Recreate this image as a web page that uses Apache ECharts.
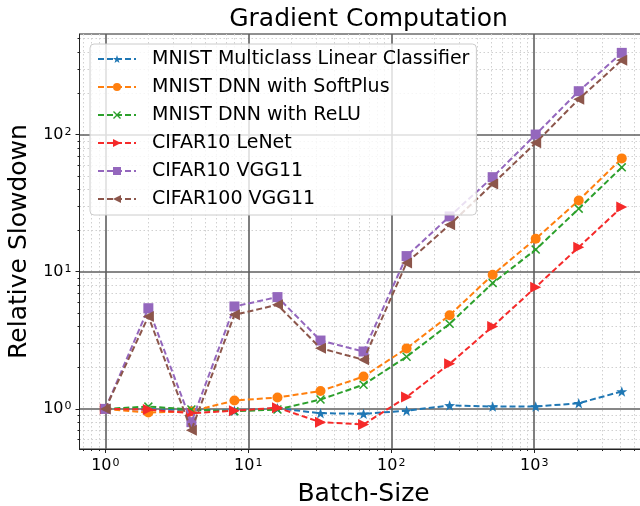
<!DOCTYPE html>
<html>
<head>
<meta charset="utf-8">
<script src="https://cdn.jsdelivr.net/npm/echarts@6/dist/echarts.min.js"></script>
<style>
  html, body { margin: 0; padding: 0; background: #fff; }
  #chart { width: 640px; height: 506px; }
</style>
</head>
<body>
<div id="chart"></div>
<script>
// Batch sizes and relative slowdown per model
const batchSizes = [1, 2, 4, 8, 16, 32, 64, 128, 256, 512, 1024, 2048, 4096];
const mnistLinear = [1.00, 0.99, 0.98, 0.97, 1.01, 0.93, 0.92, 0.97, 1.06, 1.04, 1.04, 1.10, 1.34];
const mnistSoftPlus = [1.00, 0.94, 0.96, 1.15, 1.21, 1.35, 1.72, 2.76, 4.82, 9.5, 17.4, 33.1, 67];
const mnistReLU = [1.00, 1.04, 0.99, 0.96, 0.99, 1.17, 1.50, 2.40, 4.17, 8.26, 14.5, 28.8, 57.7];
const cifar10LeNet = [1.00, 0.99, 0.93, 0.97, 1.02, 0.80, 0.77, 1.22, 2.13, 3.99, 7.72, 15.1, 29.6];
const cifar10VGG = [1.00, 5.42, 0.80, 5.58, 6.53, 3.15, 2.62, 13.0, 25.3, 48.9, 100, 207, 394];
const cifar100VGG = [1.00, 4.72, 0.70, 4.85, 5.74, 2.77, 2.28, 11.6, 22.0, 43.6, 87, 181, 348];

const seriesNames = [
  'MNIST Multiclass Linear Classifier',
  'MNIST DNN with SoftPlus',
  'MNIST DNN with ReLU',
  'CIFAR10 LeNet',
  'CIFAR10 VGG11',
  'CIFAR100 VGG11'
];
const seriesValues = [mnistLinear, mnistSoftPlus, mnistReLU, cifar10LeNet, cifar10VGG, cifar100VGG];

// Decade exponents used for major tick labels
const xDecades = [0, 1, 2, 3];
const yDecades = [0, 1, 2];

const FONT = 'DejaVu Sans';
const lg = Math.log10;

const colors = ['#1f77b4', '#ff7f0e', '#2ca02c', '#f52a2a', '#9467bd', '#8c564b'];
const STAR = 'path://M0,-10 L2.35,-3.24 L9.51,-3.09 L3.8,1.24 L5.88,8.09 L0,4 L-5.88,8.09 L-3.8,1.24 L-9.51,-3.09 L-2.35,-3.24 Z';
const CROSS = 'path://M1.2,0 L5,3.8 L8.8,0 L10,1.2 L6.2,5 L10,8.8 L8.8,10 L5,6.2 L1.2,10 L0,8.8 L3.8,5 L0,1.2 Z';
const markers = [
  { symbol: STAR, size: 11, rotate: 0 },
  { symbol: 'circle', size: 10, rotate: 0 },
  { symbol: CROSS, size: 9, rotate: 0 },
  { symbol: 'triangle', size: 11, rotate: -90 },
  { symbol: 'rect', size: 10, rotate: 0 },
  { symbol: 'triangle', size: 11, rotate: 90 }
];

// Axis extents in log10 space with a 5% margin on each side
function extent(vals) {
  const lo = Math.min(...vals.map(lg)), hi = Math.max(...vals.map(lg));
  const pad = (hi - lo) * 0.05;
  return [lo - pad, hi + pad];
}
const xExt = extent(batchSizes);
const yExt = extent([].concat(...seriesValues));

function minorValues(ext) {
  const out = [];
  for (let n = Math.floor(ext[0]) - 1; n <= Math.ceil(ext[1]); n++) {
    for (let k = 2; k <= 9; k++) {
      const v = n + lg(k);
      if (v > ext[0] && v < ext[1]) out.push(v);
    }
  }
  return out;
}

const decadeLabel = v => '{b|10}{s|' + Math.round(v) + '}';
const labelRich = {
  b: { fontFamily: FONT, fontSize: 16, color: '#000', lineHeight: 16, verticalAlign: 'bottom' },
  s: { fontFamily: FONT, fontSize: 11, color: '#000', lineHeight: 11, padding: [0, 0, 8, 1], verticalAlign: 'top' }
};

const majorSplit = { show: true, lineStyle: { color: '#5f5f5f', width: 1.6 } };
const minorSplit = { show: true, lineStyle: { color: '#d0d0d0', width: 1, type: [1.5, 2.5] } };

const series = seriesNames.map((name, i) => ({
  name: name,
  type: 'line',
  xAxisIndex: 0,
  yAxisIndex: 0,
  data: batchSizes.map((b, j) => [lg(b), lg(seriesValues[i][j])]),
  symbol: markers[i].symbol,
  symbolSize: markers[i].size,
  symbolRotate: markers[i].rotate,
  symbolKeepAspect: true,
  showAllSymbol: true,
  color: colors[i],
  itemStyle: { color: colors[i], opacity: 1 },
  lineStyle: { color: colors[i], width: 2, type: [6, 3] },
  z: 10 + i,
  animation: false
}));

const chart = echarts.init(document.getElementById('chart'), null, { renderer: 'canvas' });
chart.setOption({
  backgroundColor: '#fff',
  animation: false,
  title: {
    text: 'Gradient Computation',
    left: 363.5,
    textAlign: 'center',
    top: 2,
    textStyle: { fontFamily: FONT, fontSize: 25, fontWeight: 'normal', color: '#000' }
  },
  grid: {
    left: 79.5, top: 34, bottom: 57, right: -7.6,
    outerBoundsMode: 'none',
    containLabel: false,
    show: true, borderColor: '#222', borderWidth: 1, backgroundColor: 'transparent'
  },
  legend: {
    left: 90, top: 44,
    orient: 'vertical',
    itemWidth: 38, itemHeight: 10, itemGap: 8,
    padding: [5, 7, 6, 7],
    backgroundColor: 'rgba(255,255,255,0.8)',
    borderColor: '#cccccc', borderWidth: 1, borderRadius: 4,
    textStyle: { fontFamily: FONT, fontSize: 19, color: '#000', lineHeight: 20, padding: [0, 0, 0, 11] },
    data: seriesNames,
    z: 50
  },
  xAxis: [
    {
      type: 'value', gridIndex: 0, position: 'bottom',
      min: xExt[0], max: xExt[1],
      name: 'Batch-Size', nameLocation: 'middle', nameGap: 31,
      nameTextStyle: { fontFamily: FONT, fontSize: 25, color: '#000' },
      axisLine: { show: true, onZero: false, lineStyle: { color: '#222', width: 1 } },
      axisTick: { show: true, inside: false, length: 4, customValues: xDecades, lineStyle: { color: '#222', width: 1 } },
      axisLabel: { show: true, margin: 9, customValues: xDecades, formatter: decadeLabel, rich: labelRich },
      splitLine: majorSplit,
      z: 5
    },
    {
      type: 'value', gridIndex: 0, position: 'bottom',
      min: xExt[0], max: xExt[1],
      axisLine: { show: false, onZero: false },
      axisTick: { show: true, inside: false, length: 2, customValues: minorValues(xExt), lineStyle: { color: '#222', width: 1 } },
      axisLabel: { show: false },
      splitLine: minorSplit,
      z: 1
    }
  ],
  yAxis: [
    {
      type: 'value', gridIndex: 0, position: 'left',
      min: yExt[0], max: yExt[1],
      name: 'Relative Slowdown', nameLocation: 'middle', nameGap: 37,
      nameTextStyle: { fontFamily: FONT, fontSize: 25, color: '#000' },
      axisLine: { show: true, onZero: false, lineStyle: { color: '#222', width: 1 } },
      axisTick: { show: true, inside: false, length: 4, customValues: yDecades, lineStyle: { color: '#222', width: 1 } },
      axisLabel: { show: true, margin: 8, customValues: yDecades, formatter: decadeLabel, rich: labelRich },
      splitLine: majorSplit,
      z: 5
    },
    {
      type: 'value', gridIndex: 0, position: 'left',
      min: yExt[0], max: yExt[1],
      axisLine: { show: false, onZero: false },
      axisTick: { show: true, inside: false, length: 2, customValues: minorValues(yExt), lineStyle: { color: '#222', width: 1 } },
      axisLabel: { show: false },
      splitLine: minorSplit,
      z: 1
    }
  ],
  series: series
});
</script>
</body>
</html>
